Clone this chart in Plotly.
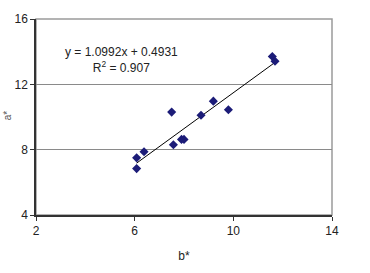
import plotly.graph_objects as go

b_star = [6.08, 6.08, 6.38, 7.5, 7.57, 7.9, 8.0, 8.69, 9.19, 9.8, 11.58, 11.69]
y_vals = [7.5, 6.84, 7.87, 10.3, 8.3, 8.63, 8.63, 10.11, 10.97, 10.44, 13.7, 13.41]
slope = 1.0992
intercept = 0.4931
r2 = 0.907
x_ticks = [2, 6, 10, 14]
y_ticks = [4, 8, 12, 16]

trend_x = [min(b_star), max(b_star)]
trend_y = [slope * v + intercept for v in trend_x]

fig = go.Figure()
fig.add_trace(go.Scatter(x=trend_x, y=trend_y, mode="lines",
                         line=dict(color="black", width=1), hoverinfo="skip"))
fig.add_trace(go.Scatter(x=b_star, y=y_vals, mode="markers",
                         marker=dict(symbol="diamond", size=7, color="#1c1c78")))

fig.add_shape(type="rect", xref="paper", yref="paper", x0=0, y0=0, x1=1, y1=1,
              line=dict(color="#9a9a9a", width=1.5), layer="below")

fig.add_annotation(x=0.29, y=0.79, xref="paper", yref="paper",
                   xanchor="center", yanchor="middle",
                   text=f"y = {slope}x + {intercept}<br>R<sup>2</sup> = {r2}",
                   showarrow=False, font=dict(family="Liberation Sans, Arial", size=12, color="#222"),
                   align="center")

fig.add_annotation(x=-0.097, y=0.51, xref="paper", yref="paper", text="a*",
                   xanchor="center", yanchor="middle",
                   textangle=-90, showarrow=False,
                   font=dict(family="Liberation Sans, Arial", size=10, color="#555"))

fig.update_layout(
    width=370, height=273,
    margin=dict(l=36, r=38, t=12, b=51),
    paper_bgcolor="white", plot_bgcolor="white",
    showlegend=False,
    font=dict(family="Liberation Sans, Arial", size=12, color="#222"),
    xaxis=dict(range=[2, 14], tickvals=x_ticks, showgrid=False, zeroline=False,
               showline=True, linecolor="#333", linewidth=1.5,
               ticks="outside", ticklen=4, tickcolor="#333",
               title=dict(text="b*", standoff=14, font=dict(size=12))),
    yaxis=dict(range=[4, 16], tickvals=y_ticks, showgrid=True, gridcolor="#8a8a8a",
               gridwidth=1.2, zeroline=False,
               showline=True, linecolor="#333", linewidth=1.5,
               ticks="outside", ticklen=4, tickcolor="#333"),
)

fig.write_html("out.html")
